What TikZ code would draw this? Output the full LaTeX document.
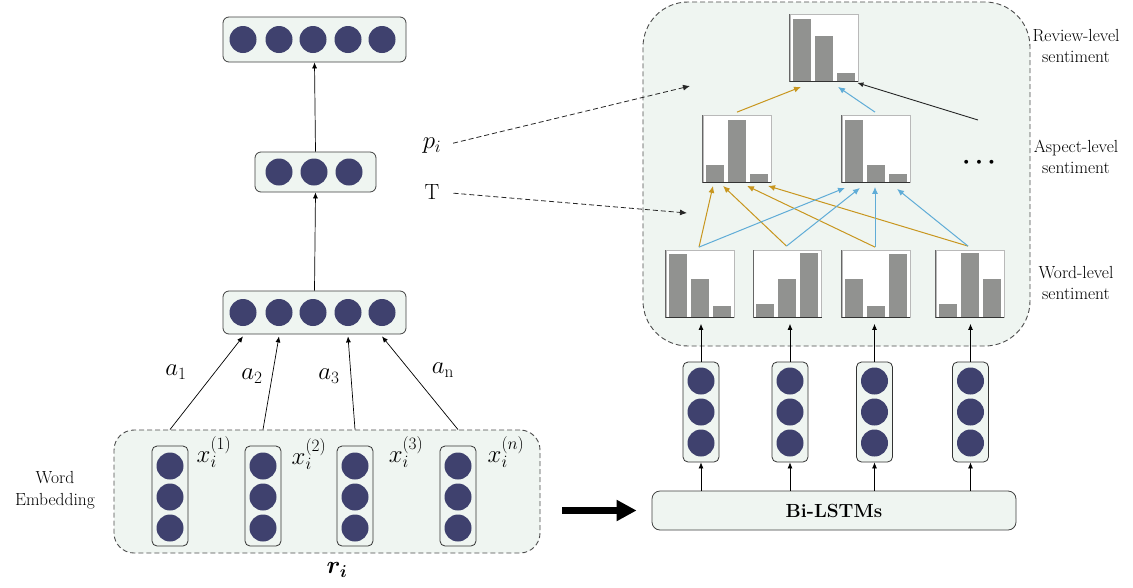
\documentclass[tikz,border=0pt]{standalone}
\usepackage{bm}
\usetikzlibrary{arrows.meta,calc}

\definecolor{navy}{RGB}{63,65,110}
\definecolor{panel}{RGB}{239,245,241}
\definecolor{bargray}{RGB}{145,146,144}
\definecolor{gold}{RGB}{200,150,30}
\definecolor{skyb}{RGB}{95,172,215}

\tikzset{
  unit/.style={circle,fill=navy,minimum size=27pt,inner sep=0pt},
  layerbox/.style={draw=black!75,fill=panel,rounded corners=6pt,line width=0.8pt,inner sep=0pt},
  colbox/.style={draw=black!80,fill=panel,rounded corners=5pt,line width=0.8pt,inner sep=0pt,minimum width=36pt,minimum height=100pt},
  panelbox/.style={draw=black!70,dash pattern=on 5pt off 3pt,fill=panel,line width=0.9pt,inner sep=0pt},
  arr/.style={-{Latex[length=6pt,width=5pt]},line width=0.7pt,black},
  goldarr/.style={-{Latex[length=7pt,width=6pt]},line width=1pt,gold},
  bluearr/.style={-{Latex[length=7pt,width=6pt]},line width=1pt,skyb},
  dasharr/.style={-{Latex[length=7pt,width=6pt]},dash pattern=on 5pt off 3pt,line width=0.8pt,black!85},
  lab/.style={font=\fontsize{17.5}{21.5}\selectfont,align=center,inner sep=0pt},
  mlab/.style={font=\fontsize{26}{28}\selectfont,inner sep=0pt},
  xlab/.style={font=\fontsize{24}{26}\selectfont,inner sep=0pt},
  chart/.style={draw=gray!55,fill=white,minimum width=68pt,minimum height=67pt,inner sep=0pt,line width=0.8pt},
  bigarrow/.style={line width=7pt,-{Triangle[length=20pt,width=20pt]},black},
}

\newcommand{\histo}[5]{%
  \node[chart] (#1) at (#2) {};
  \fill[bargray] ($(#1.south west)+(3,0)$) rectangle ++(18,-#3);
  \fill[bargray] ($(#1.south west)+(25,0)$) rectangle ++(18,-#4);
  \fill[bargray] ($(#1.south west)+(47,0)$) rectangle ++(18,-#5);
  \draw[black!80,line width=1.1pt] (#1.south west) -- (#1.south east);
  \draw[black!60,line width=0.9pt] (#1.south west) -- (#1.north west);
}

\begin{document}
\begin{tikzpicture}[x=1pt,y=-1pt]
\useasboundingbox (0,0) rectangle (1133,587);
\fill[white] (0,0) rectangle (1133,587);

% ---------- panels ----------
\node[panelbox,rounded corners=20pt,minimum width=426pt,minimum height=123pt] (emb) at (327,491.5) {};
\node[panelbox,rounded corners=45pt,minimum width=387pt,minimum height=344pt] (sent) at (836.5,174) {};

% ---------- left network ----------
\node[layerbox,minimum width=183pt,minimum height=45pt] (h3) at (314.5,39.5) {};
\foreach \i/\x in {1/243,2/279,3/313,4/348,5/382} \node[unit] (h3c\i) at (\x,39.5) {};

\node[layerbox,minimum width=121pt,minimum height=40pt] (h2) at (315.5,172) {};
\foreach \i/\x in {1/279,2/314,3/349} \node[unit] (h2c\i) at (\x,172) {};

\node[layerbox,minimum width=183pt,minimum height=43pt] (h1) at (314.5,312.5) {};
\foreach \i/\x in {1/243,2/279,3/313,4/348,5/382} \node[unit] (h1c\i) at (\x,312.5) {};

\draw[arr] (h2.north) -- (h3.south);
\draw[arr] (h1.north) -- (h2.south);

% embedding columns
\foreach \k/\x in {1/170,2/263,3/355,4/458} {
  \node[colbox] (e\k) at (\x,496) {};
  \node[unit] (e\k a) at (\x,466) {};
  \node[unit] (e\k b) at (\x,497) {};
  \node[unit] (e\k c) at (\x,528) {};
}

\draw[arr] (e1 |- emb.north) -- ($(h1c1.south |- h1.south)+(0,2)$);
\draw[arr] (e2 |- emb.north) -- ($(h1c2.south |- h1.south)+(0,2)$);
\draw[arr] (e3 |- emb.north) -- ($(h1c4.south |- h1.south)+(0,2)$);
\draw[arr] (e4 |- emb.north) -- ($(h1c5.south |- h1.south)+(0,2)$);

\node[mlab] (la1) at (176,372) {$a_1$};
\node[mlab] (la2) at (252,376) {$a_2$};
\node[mlab] (la3) at (329,376) {$a_3$};
\node[mlab] (lan) at (443,370) {$a_{\mathrm{n}}$};

\node[xlab] (lx1) at (214,452) {$x_i^{(1)}$};
\node[xlab] (lx2) at (309,454) {$x_i^{(2)}$};
\node[xlab] (lx3) at (406,452) {$x_i^{(3)}$};
\node[xlab] (lxn) at (506,452) {$x_i^{(n)}$};

\node[lab] (wemb) at (55,490) {Word\\Embedding};
\node[xlab] (ri) at (337,570) {$\bm{r_i}$};

\node[xlab,font=\fontsize{25}{27}\selectfont] (pi) at (432,146) {$p_i$};
\node[mlab,font=\fontsize{22}{24}\selectfont] (tt) at (432,192) {T};

% ---------- right side ----------
\node[layerbox,rounded corners=8pt,minimum width=364pt,minimum height=39pt,font=\fontsize{19}{22}\selectfont] (lstm) at (834,510.5) {\textbf{Bi-LSTMs}};

\foreach \k/\x in {1/701,2/790,3/874.5,4/970.5} {
  \node[colbox] (c\k) at (\x,412) {};
  \node[unit] (c\k a) at (\x,381) {};
  \node[unit] (c\k b) at (\x,412) {};
  \node[unit] (c\k c) at (\x,443) {};
}

\histo{w1}{700,284}{64}{39}{12}
\histo{w2}{787.5,284}{14}{39}{65}
\histo{w3}{876,284}{39}{12}{64}
\histo{w4}{970,284}{14}{65}{39}

\histo{a1}{737,149}{18}{63}{9}
\histo{a2}{876,149}{63}{18}{9}

\histo{rv}{824,48}{63}{46}{9}

\foreach \k in {1,2,3,4} {
  \draw[arr] (c\k.south |- lstm.north) -- (c\k.south);
  \draw[arr,shorten >=6pt] (c\k.north) -- (c\k.north |- w\k.south);
}

% word -> aspect
\draw[goldarr] ($(w1.north)+(-1,-3)$) -- ($(a1.south)+(-24,3)$);
\draw[goldarr] ($(w2.north)+(-1,-4)$) -- ($(a1.south)+(-14,3)$);
\draw[goldarr] ($(w3.north)+(-1,-3)$) -- ($(a1.south)+(10,3)$);
\draw[goldarr] ($(w4.north)+(-2,-4)$) -- ($(a1.south)+(31,3)$);
\draw[bluearr] ($(w1.north)+(-1,-3)$) -- ($(a2.south)+(-31,5)$);
\draw[bluearr] ($(w2.north)+(-1,-4)$) -- ($(a2.south)+(-16,5)$);
\draw[bluearr] ($(w3.north)+(-1,-3)$) -- ($(a2.south)+(-1,4)$);
\draw[bluearr] ($(w4.north)+(-2,-4)$) -- ($(a2.south)+(21,6)$);

% aspect -> review
\draw[goldarr] ($(a1.north)+(0,-3)$) -- ($(rv.south)+(-23,5)$);
\draw[bluearr] ($(a2.north)+(-1,-3)$) -- ($(rv.south)+(14,5)$);

\node[font=\fontsize{27}{28}\selectfont,inner sep=0pt] (dots) at (979,163) {$\bm{\cdots}$};
\coordinate (dline) at (978,120);
\draw[arr,line width=0.9pt,black!85] (dline) -- ($(rv.south east)+(-1,1)$);

% dashed links
\coordinate (pend) at (690,86);
\coordinate (tend) at (687,213);
\draw[dasharr,shorten <=12pt] (pi.east) -- (pend);
\draw[dasharr,shorten <=14pt] (tt.east) -- (tend);

% labels
\node[lab] (lrev) at (1076,46) {Review-level\\sentiment};
\node[lab] (lasp) at (1076,157) {Aspect-level\\sentiment};
\node[lab] (lwrd) at (1076,283) {Word-level\\sentiment};

% big arrow
\draw[bigarrow] ([xshift=22pt]emb.east |- lstm.west) -- ([xshift=-15pt]lstm.west);
\end{tikzpicture}
\end{document}
